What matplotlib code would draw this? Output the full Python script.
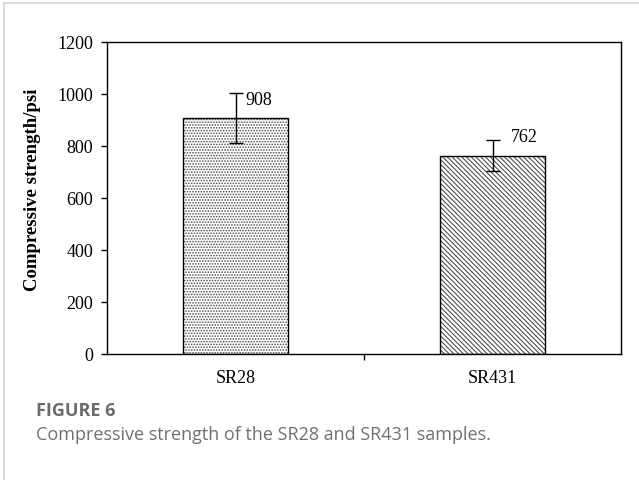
import matplotlib
matplotlib.use("Agg")
import matplotlib.pyplot as plt
from matplotlib.lines import Line2D

categories = ["SR28", "SR431"]
values = [908, 762]
errors = [95, 60]
labels = ["908", "762"]
yticks = [0, 200, 400, 600, 800, 1000, 1200]

plt.rcParams['hatch.linewidth'] = 0.8
serif = ['Liberation Serif', 'DejaVu Serif']

fig = plt.figure(figsize=(6.39, 4.81), dpi=100)
ax = fig.add_axes([107/639, 1-355/481, (621-107)/639, (355-43)/481])

x = list(range(len(categories)))
hatches = ['......', '\\' * 7]
for i in x:
    ax.bar(i, values[i], width=0.405, color='white', edgecolor='#505050',
           hatch=hatches[i], linewidth=0, zorder=2)
    ax.bar(i, values[i], width=0.405, fill=False, edgecolor='black',
           linewidth=1.0, zorder=3)
ax.errorbar(x, values, yerr=errors, fmt='none', ecolor='black',
            elinewidth=1.0, capsize=5, capthick=1.0, zorder=4)

label_pos = [(0.04, 978), (1.071, 835)]
for (lx, ly), t in zip(label_pos, labels):
    ax.text(lx, ly, t, ha='left', va='center', fontsize=13, family=serif)

ax.set_xlim(-0.5, 1.5)
ax.set_ylim(0, 1200)
ax.set_yticks(yticks)
ax.set_yticklabels([str(v) for v in yticks], fontsize=13, family=serif)
ax.set_xticks(x)
ax.set_xticklabels(categories, fontsize=13, family=serif)
ax.tick_params(axis='x', which='major', length=0, pad=11)
ax.set_xticks([0.5], minor=True)
ax.tick_params(axis='x', which='minor', length=4, direction='out', width=1)
ax.tick_params(axis='y', length=4, direction='out', width=1, pad=6)
for s in ax.spines.values():
    s.set_linewidth(1.0)
    s.set_color('black')

fig.text(33/639, 1-190/481, "Compressive strength/psi", rotation=90,
         ha='center', va='center', fontsize=13.5, fontweight='bold', family=serif)

# card border
fig.add_artist(Line2D([4/639, 4/639], [0, 1-4/481], transform=fig.transFigure,
                      color='#d4d4d4', lw=1.2))
fig.add_artist(Line2D([4/639, 1], [1-4/481, 1-4/481], transform=fig.transFigure,
                      color='#d4d4d4', lw=1.2))

fig.text(36/639, 1-411/481, "FIGURE 6", ha='left', va='center', fontsize=13,
         fontweight='bold', color='#6b6b6b', family=['Open Sans', 'DejaVu Sans'])
fig.text(36/639, 1-435/481, "Compressive strength of the SR28 and SR431 samples.",
         ha='left', va='center', fontsize=13, color='#707070',
         family=['Open Sans', 'DejaVu Sans'])

fig.savefig("out.png", dpi=100)
